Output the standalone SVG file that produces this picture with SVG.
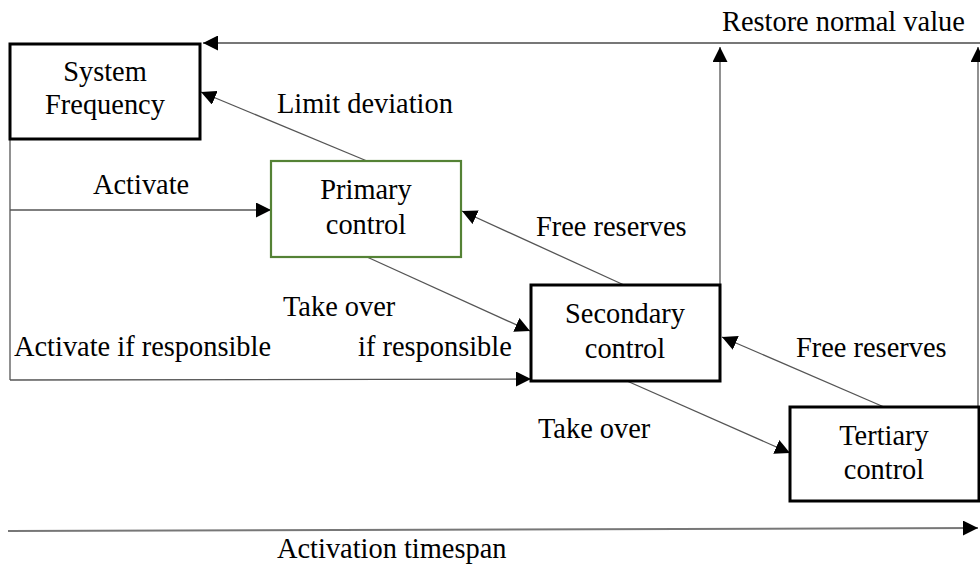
<svg xmlns="http://www.w3.org/2000/svg" width="980" height="567" viewBox="0 0 980 567">
<style>
text{font-size:28.4px;fill:#000}
.box{fill:#fff;stroke:#000;stroke-width:3}
.green{fill:#fff;stroke:#548235;stroke-width:2.2}
.c{fill:none;stroke:#555;stroke-width:1.3}
.t{fill:none;stroke:#777;stroke-width:2}
.m{text-anchor:middle}
</style>
<defs>
<marker id="a" viewBox="0 0 10 10" refX="10" refY="5" markerWidth="15" markerHeight="15" markerUnits="userSpaceOnUse" orient="auto">
<path d="M0,0 L10,5 L0,10 z" fill="#000"/>
</marker>
</defs>
<rect width="980" height="567" fill="#fff"/>
<g id="connectors">
<path class="t" d="M980,43 L203,43" marker-end="url(#a)"/>
<path class="c" d="M978,407 L978,47" marker-end="url(#a)"/>
<path class="c" d="M720,285 L720,47" marker-end="url(#a)"/>
<path class="c" d="M367,161 L201,92" marker-end="url(#a)"/>
<path class="c" d="M10,139 L10,380"/>
<path class="c" d="M10,210 L271,210" marker-end="url(#a)"/>
<path class="c" d="M10,380 L531,379" marker-end="url(#a)"/>
<path class="c" d="M367,257 L530,331" marker-end="url(#a)"/>
<path class="c" d="M624,285 L462,211" marker-end="url(#a)"/>
<path class="c" d="M627,381 L790,453" marker-end="url(#a)"/>
<path class="c" d="M884,407 L722,337" marker-end="url(#a)"/>
<path class="t" d="M8,531 L978,528" marker-end="url(#a)"/>
</g>
<g font-family="'Liberation Serif', 'Times New Roman', serif">
<g id="system-frequency">
<rect class="box" x="10" y="44" width="190" height="95"/>
<text class="m" x="105" y="81">System</text>
<text class="m" x="105" y="114">Frequency</text>
</g>
<g id="primary-control">
<rect class="green" x="271" y="161" width="190" height="96"/>
<text class="m" x="366" y="199">Primary</text>
<text class="m" x="366" y="234">control</text>
</g>
<g id="secondary-control">
<rect class="box" x="531" y="285" width="189" height="96"/>
<text class="m" x="625" y="323">Secondary</text>
<text class="m" x="625" y="358">control</text>
</g>
<g id="tertiary-control">
<rect class="box" x="790" y="407" width="189" height="94"/>
<text class="m" x="884" y="445">Tertiary</text>
<text class="m" x="884" y="479">control</text>
</g>
<g id="labels">
<text x="722" y="31">Restore normal value</text>
<text x="277" y="113">Limit deviation</text>
<text x="93" y="194">Activate</text>
<text x="536" y="236">Free reserves</text>
<text x="283" y="316">Take over</text>
<text x="14" y="356">Activate if responsible</text>
<text x="358" y="356">if responsible</text>
<text x="796" y="357">Free reserves</text>
<text x="538" y="438">Take over</text>
<text x="277" y="558">Activation timespan</text>
</g>
</g>
</svg>
